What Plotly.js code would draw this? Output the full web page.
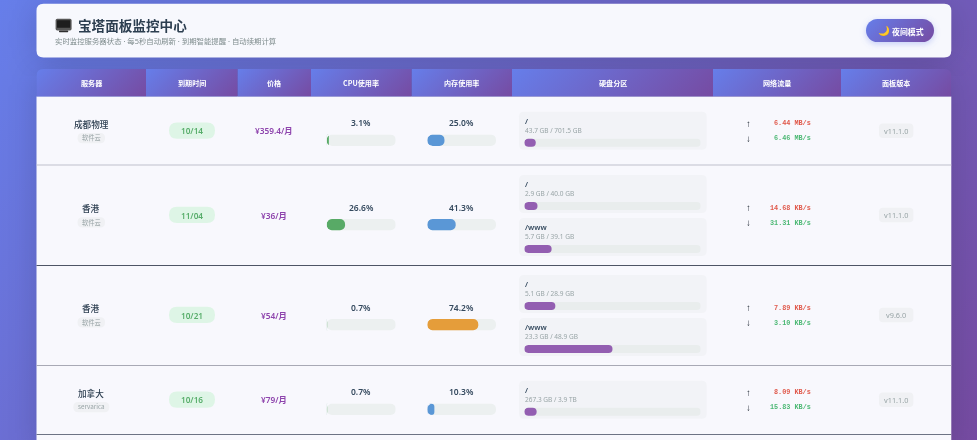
<!DOCTYPE html>
<html><head><meta charset="utf-8">
<script src="https://cdn.plot.ly/plotly-3.0.1.min.js"></script>
<style>html,body{margin:0;padding:0;width:977px;height:440px;overflow:hidden;background:#6b66c6}#chart{filter:blur(.35px)}</style>
</head><body><div id="chart" style="width:977px;height:440px"></div>
<script>
// ---------- data ----------
const columnTitles = ['服务器','到期时间','价格','CPU使用率','内存使用率','硬盘分区','网络流量','面板版本'];
const serverNames = ['成都物理','香港','香港','加拿大'];
const providers = ['软件云','软件云','软件云','servarica'];
const expiry = ['10/14','11/04','10/21','10/16'];
const prices = ['¥359.4/月','¥36/月','¥54/月','¥79/月'];
const cpuUsage = [3.1,26.6,0.7,0.7];
const memUsage = [25.0,41.3,74.2,10.3];
const diskMounts = [['/'],['/','/www'],['/','/www'],['/']];
const diskDetails = [['43.7 GB / 701.5 GB'],['2.9 GB / 40.0 GB','5.7 GB / 39.1 GB'],['5.1 GB / 28.9 GB','23.3 GB / 48.9 GB'],['267.3 GB / 3.9 TB']];
const diskUsage = [[6.5],[7.5,15.5],[17.6,50],[7]];
const netUp = ['6.44 MB/s','14.68 KB/s','7.89 KB/s','8.09 KB/s'];
const netDown = ['6.46 MB/s','31.31 KB/s','3.10 KB/s','15.83 KB/s'];
const panelVersion = ['v11.1.0','v11.1.0','v9.6.0','v11.1.0'];

// ---------- layout geometry (page pixels) ----------
const W=977,H=440,L=36.5,R=951.3;
const colEdges=[36.5,146,237.7,311,411.7,512,713,841,951.3];
const rowEdges=[96.4,165,265,365,434.5];
const sepY=[165,265.5,365.5,434.5];
const sepColors=['#bfc0cc','#4e5565','#a8a9b5','#6d7384'];
const CJK='"Noto Sans CJK SC","Noto Sans",sans-serif';
const LAT='"Noto Sans","Noto Sans CJK SC",sans-serif';
const MONO='"Liberation Mono","DejaVu Sans Mono",monospace';
const EMOJI='"Noto Color Emoji","DejaVu Sans",sans-serif';
const ROWBG='#f8f8fd',DISKBG='#f2f3f7';
const svg=s=>'data:image/svg+xml;charset=utf-8,'+encodeURIComponent(s);
const rrect=(x0,y0,x1,y1,r)=>`M${x0+r},${y0}H${x1-r}Q${x1},${y0} ${x1},${y0+r}V${y1-r}Q${x1},${y1} ${x1-r},${y1}H${x0+r}Q${x0},${y1} ${x0},${y1-r}V${y0+r}Q${x0},${y0} ${x0+r},${y0}Z`;
const box=(x0,y0,x1,y1,r,fill)=>({type:'path',xref:'x',yref:'y',path:rrect(x0,y0,x1,y1,r),fillcolor:fill,line:{width:0},layer:'below'});
const ann=[];
const txt=(x,y,text,size,color,opt={})=>ann.push({xref:'x',yref:'y',x,y,text,showarrow:false,xanchor:opt.a||'center',yanchor:'middle',
  font:{family:opt.f||CJK,size,color,weight:opt.w||400},borderpad:0,align:'center'});

// page background with the soft card shadows
const bgSvg=`<svg xmlns="http://www.w3.org/2000/svg" width="${W}" height="${H}" viewBox="0 0 ${W} ${H}">
<defs><linearGradient id="g" gradientUnits="userSpaceOnUse" x1="${W/2-(W+H)/4}" y1="${H/2-(W+H)/4}" x2="${W/2+(W+H)/4}" y2="${H/2+(W+H)/4}"><stop offset="0" stop-color="#667eea"/><stop offset="1" stop-color="#764ba2"/></linearGradient>
<filter id="b" x="-10%" y="-30%" width="120%" height="160%"><feGaussianBlur stdDeviation="17"/></filter></defs>
<rect width="${W}" height="${H}" fill="url(#g)"/>
<rect x="${L}" y="8" width="${R-L}" height="52" rx="7" fill="#000" fill-opacity=".15" filter="url(#b)"/>
<rect x="${L}" y="73" width="${R-L}" height="380" rx="7" fill="#000" fill-opacity=".15" filter="url(#b)"/></svg>`;
const images=[{source:svg(bgSvg),xref:'paper',yref:'paper',x:0,y:1,sizex:1,sizey:1,xanchor:'left',yanchor:'top',sizing:'stretch',layer:'below'}];

// header cell gradients, page-level top corners rounded
const HT=69,HB=96.4;
colEdges.slice(0,-1).forEach((x0,i)=>{
  const x1=colEdges[i+1],w=x1-x0,h=HB-HT,s=(w+h)/4;
  const rl=i===0?7:0,rr=i===colEdges.length-2?7:0;
  const p=`M${rl},0H${w-rr}Q${w},0 ${w},${rr}V${h}H0V${rl}Q0,0 ${rl},0Z`;
  const c=`<svg xmlns="http://www.w3.org/2000/svg" width="${w*4}" height="${h*4}" viewBox="0 0 ${w} ${h}" preserveAspectRatio="none"><defs><linearGradient id="g" gradientUnits="userSpaceOnUse" x1="${w/2-s}" y1="${h/2-s}" x2="${w/2+s}" y2="${h/2+s}"><stop offset="0" stop-color="#667eea"/><stop offset="1" stop-color="#764ba2"/></linearGradient></defs><path d="${p}" fill="url(#g)"/></svg>`;
  images.push({source:svg(c),xref:'x',yref:'y',x:x0,y:HT,sizex:w,sizey:h,xanchor:'left',yanchor:'top',sizing:'stretch',layer:'above'});
  txt((x0+x1)/2,82.6,columnTitles[i],7.1,'#ffffff',{w:700});
});

// night-mode button pill
{const bx=866,by=19,bw=68,bh=23,s=(bw+bh)/4;
 const c=`<svg xmlns="http://www.w3.org/2000/svg" width="${(bw+16)*4}" height="${(bh+16)*4}" viewBox="-8 -8 ${bw+16} ${bh+16}"><defs><linearGradient id="g" gradientUnits="userSpaceOnUse" x1="${bw/2-s}" y1="${bh/2-s}" x2="${bw/2+s}" y2="${bh/2+s}"><stop offset="0" stop-color="#667eea"/><stop offset="1" stop-color="#764ba2"/></linearGradient><filter id="f" x="-20%" y="-50%" width="140%" height="200%"><feGaussianBlur stdDeviation="3"/></filter></defs><rect x="0" y="2" width="${bw}" height="${bh}" rx="11.5" fill="#667eea" fill-opacity=".35" filter="url(#f)"/><rect width="${bw}" height="${bh}" rx="11.5" fill="url(#g)"/></svg>`;
 images.push({source:svg(c),xref:'x',yref:'y',x:bx-8,y:by-8,sizex:bw+16,sizey:bh+16,xanchor:'left',yanchor:'top',sizing:'stretch',layer:'above'});
 txt(890.6,31.2,'夜间模式',7.9,'#ffffff',{w:700,a:'left'});
 txt(883.5,31,'🌙',9.5,'#e9b23c',{f:EMOJI});
}

// cards and table body
const shapes=[box(L,3.7,R,57.5,7,'#f7f8fd')];
shapes.push({type:'rect',xref:'x',yref:'y',x0:L,x1:R,y0:HB,y1:H,fillcolor:ROWBG,line:{width:0},layer:'below'});
sepColors.forEach((c,i)=>shapes.push({type:'line',xref:'x',yref:'y',x0:L,x1:R,y0:sepY[i],y1:sepY[i],line:{color:c,width:1},layer:'below'}));

// monitor icon beside the title
shapes.push(box(55.6,18.8,71.6,30.4,1.6,'#565656'));
shapes.push(box(57,20.2,70.2,27.8,0.6,'#1e1e1e'));
shapes.push(box(59,30.4,68.2,32.2,0.6,'#2f2f2f'));
txt(76.6,25.2,'宝塔面板监控中心',13.6,'#2c3e50',{a:'left',w:700});
txt(54,41.4,'实时监控服务器状态 · 每5秒自动刷新 · 到期智能提醒 · 自动续期计算',7.4,'#7f8c8d',{a:'left',f:LAT});

// rounded left ends of the pill bars: CSS overflow-hidden look
const leftCorners=(x,yc,h,r,bg)=>{
  const t=yc-h/2,b=yc+h/2;
  shapes.push({type:'path',xref:'x',yref:'y',layer:'above',fillcolor:bg,line:{width:0},
    path:`M${x},${t}H${x+r}Q${x},${t} ${x},${t+r}ZM${x},${b}H${x+r}Q${x},${b} ${x},${b-r}Z`});
};

// table rows
const cpuY=[],memY=[],diskY=[],diskX=[];
const memColor=v=>v>=70?'#e59d3a':'#5a97d6';
const BARH=11.3,BARR=5.6,DH=8,DR=4;
const XCPU=[326.7,395.7],XMEM=[427.3,496],XDISK=[524.3,700.7];
serverNames.forEach((n,i)=>{
  const c=(rowEdges[i]+rowEdges[i+1])/2;
  txt(91.3,c-7,n,8.6,'#2c3e50',{w:500});
  const tw=providers[i].length>3?36:27.5;
  shapes.push(box(91.3-tw/2,c+2.3,91.3+tw/2,c+12.6,5,'#f0f1f4'));
  txt(91.3,c+7.2,providers[i],6.3,'#98a4a6');
  shapes.push(box(169,c-8.3,215,c+8,8,'#def5e6'));
  txt(192,c,expiry[i],8.2,'#57ad6a',{f:LAT,w:600});
  txt(274,c,prices[i],8.3,'#8e44ad',{w:600,f:LAT});
  txt(361,c-7.8,cpuUsage[i].toFixed(1)+'%',8.5,'#34495e',{f:LAT,w:600});
  txt(461.5,c-7.8,memUsage[i].toFixed(1)+'%',8.5,'#34495e',{f:LAT,w:600});
  cpuY.push(c+9.6);memY.push(c+9.6);
  leftCorners(XCPU[0],c+9.6,BARH,BARR,ROWBG);
  leftCorners(XMEM[0],c+9.6,BARH,BARR,ROWBG);
  const nd=diskMounts[i].length;
  diskMounts[i].forEach((m,k)=>{
    const top=nd===1?c-19:c-40+k*43;
    shapes.push(box(519,top,706.7,top+38,5,DISKBG));
    txt(524.3,top+8.8,m,7.5,'#34495e',{a:'left',f:LAT,w:600});
    txt(524.3,top+18.8,diskDetails[i][k],6.5,'#98a4a6',{a:'left',f:LAT});
    diskY.push(top+31);diskX.push(diskUsage[i][k]);
    leftCorners(XDISK[0],top+31,DH,DR,DISKBG);
  });
  txt(748,c-7.5,'↑',9.5,'#1c2530',{f:'"Liberation Sans",sans-serif',w:700});
  txt(748,c+7.5,'↓',9.5,'#1c2530',{f:'"Liberation Sans",sans-serif',w:700});
  txt(811.5,c-7.5,netUp[i],6.8,'#e0584a',{a:'right',f:MONO,w:700});
  txt(811.5,c+7.5,netDown[i],6.8,'#4cb874',{a:'right',f:MONO,w:700});
  shapes.push(box(879,c-7.3,913.4,c+7.3,4,'#f0f1f4'));
  txt(896.2,c,panelVersion[i],7.3,'#98a4a6',{f:LAT});
});

const hbar=(x,y,ax,color,width,r)=>({type:'bar',orientation:'h',x,y,xaxis:ax,yaxis:'y',width,base:0,
  marker:{color,cornerradius:r,line:{width:0}},hoverinfo:'skip',showlegend:false});
const hundred=a=>a.map(()=>100);
const data=[
  hbar(hundred(cpuY),cpuY,'x2','#ecf0f0',BARH,BARR),
  hbar(cpuUsage,cpuY,'x2','#58aa66',BARH,BARR),
  hbar(hundred(memY),memY,'x3','#ecf0f0',BARH,BARR),
  hbar(memUsage,memY,'x3',memUsage.map(memColor),BARH,BARR),
  hbar(hundred(diskY),diskY,'x4','#e9eded',DH,DR),
  hbar(diskX,diskY,'x4','#935eb1',DH,DR)
];
const hidden={visible:false,fixedrange:true};
const layout={width:W,height:H,margin:{l:0,r:0,t:0,b:0},paper_bgcolor:'rgba(0,0,0,0)',plot_bgcolor:'rgba(0,0,0,0)',
  showlegend:false,barmode:'overlay',
  xaxis:{...hidden,range:[0,W],domain:[0,1]},
  yaxis:{...hidden,range:[H,0],domain:[0,1]},
  xaxis2:{...hidden,range:[0,100],domain:[XCPU[0]/W,XCPU[1]/W],anchor:'y'},
  xaxis3:{...hidden,range:[0,100],domain:[XMEM[0]/W,XMEM[1]/W],anchor:'y'},
  xaxis4:{...hidden,range:[0,100],domain:[XDISK[0]/W,XDISK[1]/W],anchor:'y'},
  shapes,annotations:ann,images,
  font:{family:CJK}
};
// a transparent trace keeps the page-pixel axis pair alive for shapes and text
data.unshift({type:'scatter',x:[0,W],y:[0,H],mode:'none',xaxis:'x',yaxis:'y',hoverinfo:'skip',showlegend:false});
Plotly.newPlot('chart',data,layout,{displayModeBar:false,staticPlot:true});
</script></body></html>
